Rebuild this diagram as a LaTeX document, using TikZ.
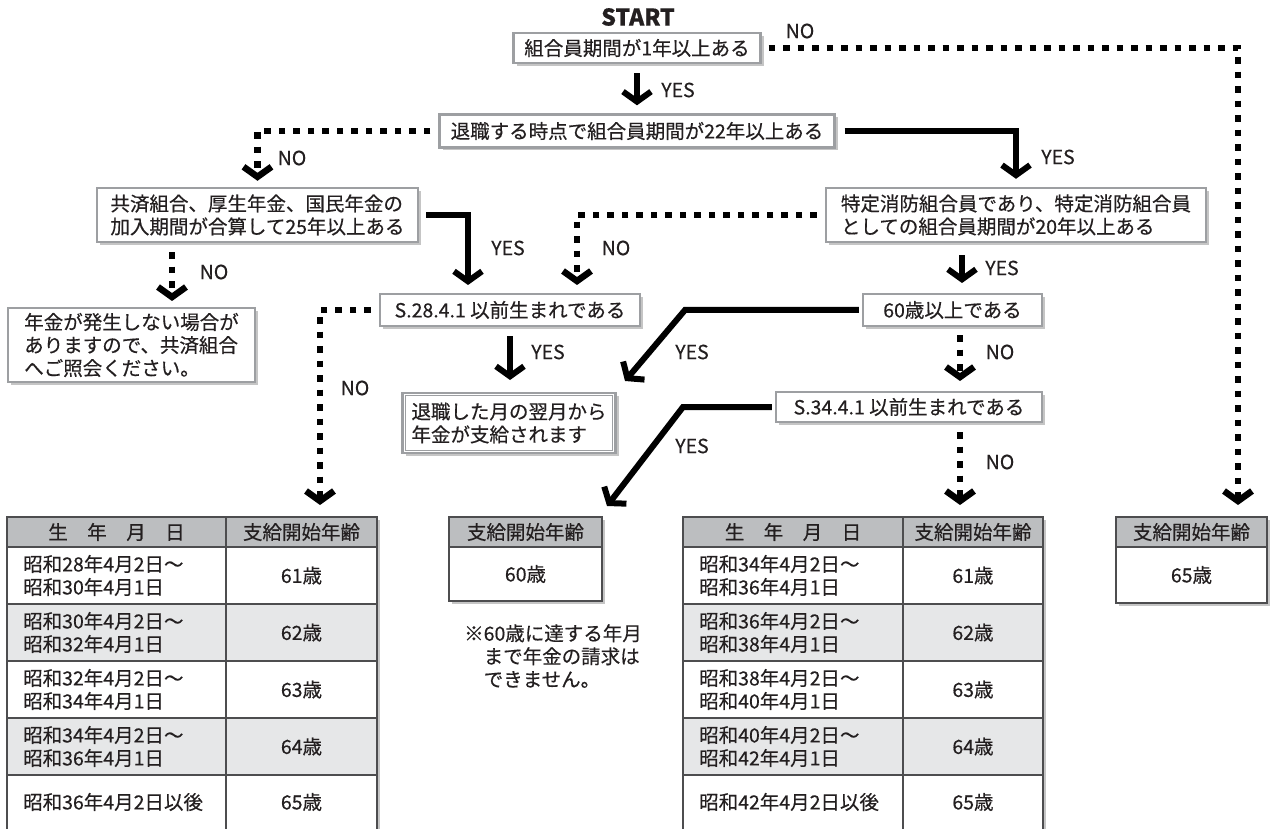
\documentclass[tikz,border=0pt]{standalone}
\usepackage{fontspec}
\setmainfont{Noto Sans CJK JP}[RawFeature={embolden=0.4}]
\usetikzlibrary{arrows.meta,shadows,calc}
\definecolor{txt}{HTML}{231F20}
\definecolor{bord}{HTML}{9D9FA2}
\definecolor{hdr}{HTML}{BCBEC0}
\definecolor{alt}{HTML}{E6E7E8}
\definecolor{tline}{HTML}{4D4D4F}
\newcommand{\myfs}{\fontsize{19.5}{23}\selectfont}
\begin{document}
\begin{tikzpicture}[x=1pt,y=-1pt,
  box/.style={draw=bord, line width=2.4pt, fill=white, text=txt, inner sep=0pt, font=\myfs,
    drop shadow={shadow xshift=3pt,shadow yshift=-3pt,fill=black!50,opacity=.45}},
  lab/.style={text=txt, inner sep=0pt, font=\myfs},
  sarr/.style={line width=6pt, draw=black, -{Straight Barb[length=10pt,width=28pt]}},
  darr/.style={line width=6.5pt, draw=black, dash pattern=on 6.5pt off 8pt, -{Straight Barb[length=10pt,width=28pt]}},
  tl/.style={draw=tline, line width=1.3pt},
  tshadow/.style={fill=white, drop shadow={shadow xshift=3pt,shadow yshift=-3pt,fill=black!50,opacity=.45}}
]
\useasboundingbox[fill=white] (0,0) rectangle (1270,829);

% ---------- named points ----------
\coordinate (t4tip) at (1238,505);
\coordinate (cf) at (468,285);
\coordinate (df) at (577,285);
\coordinate (ce) at (172,301);
\coordinate (dg) at (962,283);
\coordinate (t1tip) at (320,505);
\coordinate (fh) at (510,380);
\coordinate (gh1) at (685,310);
\coordinate (gh) at (625,381);
\coordinate (gi) at (960,381);
\coordinate (it1) at (683,407);
\coordinate (t2tip) at (607,506);
\coordinate (t3tip) at (960,505);

% ---------- boxes ----------
\node[box, minimum width=247pt, minimum height=30pt] (A) at (637,48) {組合員期間が1年以上ある};
\node[box, minimum width=395pt, minimum height=33pt] (B) at (637,131) {退職する時点で組合員期間が22年以上ある};
\node[box, minimum width=321pt, minimum height=54pt, align=left] (C) at (257.5,215) {共済組合、厚生年金、国民年金の\\加入期間が合算して25年以上ある};
\node[box, minimum width=380pt, minimum height=54pt, align=left] (D) at (1016,215) {特定消防組合員であり、特定消防組合員\\としての組合員期間が20年以上ある};
\node[box, minimum width=247pt, minimum height=74pt, align=left] (E) at (131.5,345) {年金が発生しない場合が\\ありますので、共済組合\\へご照会ください。};
\node[box, minimum width=260pt, minimum height=32pt] (F) at (510,310) {S.28.4.1 以前生まれである};
\node[box, minimum width=179pt, minimum height=32pt] (G) at (952.5,310) {60歳以上である};
\node[box, minimum width=213pt, minimum height=60pt, align=left] (H) at (509,423) {退職した月の翌月から\\年金が支給されます};
\draw[bord, line width=0.9pt] ([shift={(4pt,-4pt)}]H.north west) rectangle ([shift={(-4pt,4pt)}]H.south east);
\node[box, minimum width=266pt, minimum height=30pt] (I) at (909,407) {S.34.4.1 以前生まれである};

% ---------- connectors ----------
\draw[sarr, shorten <=9pt, shorten >=8pt] (A.south) -- (B.north);
\draw[darr, shorten <=7pt] (A.east) -| (t4tip);
\draw[darr, shorten <=8pt, shorten >=6pt] (B.west) -| (C.north);
\draw[sarr, shorten <=9pt, shorten >=8pt] (B.east) -| (D.north);
\draw[sarr, shorten <=7pt] (C.east) -| (cf);
\draw[darr, shorten <=8pt] (D.west) -| (df);
\draw[darr, shorten <=9pt] (C.south -| ce) -- (ce);
\draw[sarr, shorten <=12pt] (D.south -| dg) -- (dg);
\draw[darr, shorten <=8pt] (F.west) -| (t1tip);
\draw[sarr, shorten <=9pt] (F.south -| fh) -- (fh);
\draw[sarr, shorten <=3pt, line join=miter] (G.west) -- (gh1) -- (gh);
\draw[darr, shorten <=8pt] (G.south -| gi) -- (gi);
\draw[sarr, shorten <=3pt, line join=miter] (I.west) -- (it1) -- (t2tip);
\draw[darr, shorten <=9pt] (I.south -| t3tip) -- (t3tip);

% ---------- labels ----------
\node[font=\fontsize{23}{27}\selectfont\bfseries, text=txt, inner sep=0pt] (start) at (638,17) {START};
\node[lab] (no1) at (800,31) {NO};
\node[lab] (yes1) at (678,90) {YES};
\node[lab] (no2) at (292,158) {NO};
\node[lab] (yes2) at (1058,157) {YES};
\node[lab] (yes3) at (508,248) {YES};
\node[lab] (no3) at (616,248) {NO};
\node[lab] (no4) at (214,272) {NO};
\node[lab] (yes4) at (1002,268) {YES};
\node[lab] (no5) at (355,388) {NO};
\node[lab] (yes5) at (548,352) {YES};
\node[lab] (yes6) at (692,352) {YES};
\node[lab] (no6) at (1000,352) {NO};
\node[lab] (yes7) at (692,446) {YES};
\node[lab] (no7) at (1000,462) {NO};

% ---------- table 1 ----------
\fill[tshadow] (7,517) rectangle (377,829);
\fill[hdr] (7,517) rectangle (377,547);
\fill[alt] (7,604) rectangle (377,661);
\fill[alt] (7,718) rectangle (377,775);
\draw[tl] (7,829) -- (7,517) -- (377,517) -- (377,829);
\foreach \yy in {547,604,661,718,775} \draw[tl] (7,\yy) -- (377,\yy);
\draw[tl] (226,517) -- (226,829);
\node[lab] (t1h1) at (116.5,532) {生　年　月　日};
\node[lab] (t1h2) at (301.5,532) {支給開始年齢};
\node[lab, anchor=west, align=left] (t1r1) at (23,575.5) {昭和28年4月2日〜\\昭和30年4月1日};
\node[lab, anchor=west, align=left] (t1r2) at (23,632.5) {昭和30年4月2日〜\\昭和32年4月1日};
\node[lab, anchor=west, align=left] (t1r3) at (23,689.5) {昭和32年4月2日〜\\昭和34年4月1日};
\node[lab, anchor=west, align=left] (t1r4) at (23,746.5) {昭和34年4月2日〜\\昭和36年4月1日};
\node[lab, anchor=west, align=left] (t1r5) at (23,802) {昭和36年4月2日以後};
\node[lab] (t1a1) at (301.5,575.5) {61歳};
\node[lab] (t1a2) at (301.5,632.5) {62歳};
\node[lab] (t1a3) at (301.5,689.5) {63歳};
\node[lab] (t1a4) at (301.5,746.5) {64歳};
\node[lab] (t1a5) at (301.5,802) {65歳};

% ---------- table 2 ----------
\fill[tshadow] (449,517) rectangle (602,601);
\fill[hdr] (449,517) rectangle (602,547);
\draw[tl] (449,517) rectangle (602,601);
\draw[tl] (449,547) -- (602,547);
\node[lab] (t2h) at (525.5,532) {支給開始年齢};
\node[lab] (t2a) at (525.5,574) {60歳};
\node[lab, anchor=north west, align=left] (note) at (464,624) {※60歳に達する年月\\\hspace*{1em}まで年金の請求は\\\hspace*{1em}できません。};

% ---------- table 3 ----------
\fill[tshadow] (683,517) rectangle (1043,829);
\fill[hdr] (683,517) rectangle (1043,547);
\fill[alt] (683,604) rectangle (1043,661);
\fill[alt] (683,718) rectangle (1043,775);
\draw[tl] (683,829) -- (683,517) -- (1043,517) -- (1043,829);
\foreach \yy in {547,604,661,718,775} \draw[tl] (683,\yy) -- (1043,\yy);
\draw[tl] (903,517) -- (903,829);
\node[lab] (t3h1) at (793,532) {生　年　月　日};
\node[lab] (t3h2) at (973,532) {支給開始年齢};
\node[lab, anchor=west, align=left] (t3r1) at (699,575.5) {昭和34年4月2日〜\\昭和36年4月1日};
\node[lab, anchor=west, align=left] (t3r2) at (699,632.5) {昭和36年4月2日〜\\昭和38年4月1日};
\node[lab, anchor=west, align=left] (t3r3) at (699,689.5) {昭和38年4月2日〜\\昭和40年4月1日};
\node[lab, anchor=west, align=left] (t3r4) at (699,746.5) {昭和40年4月2日〜\\昭和42年4月1日};
\node[lab, anchor=west, align=left] (t3r5) at (699,802) {昭和42年4月2日以後};
\node[lab] (t3a1) at (973,575.5) {61歳};
\node[lab] (t3a2) at (973,632.5) {62歳};
\node[lab] (t3a3) at (973,689.5) {63歳};
\node[lab] (t3a4) at (973,746.5) {64歳};
\node[lab] (t3a5) at (973,802) {65歳};

% ---------- table 4 ----------
\fill[tshadow] (1116,517) rectangle (1267,603);
\fill[hdr] (1116,517) rectangle (1267,547);
\draw[tl] (1116,517) rectangle (1267,603);
\draw[tl] (1116,547) -- (1267,547);
\node[lab] (t4h) at (1191.5,532) {支給開始年齢};
\node[lab] (t4a) at (1191.5,575) {65歳};
\end{tikzpicture}
\end{document}
